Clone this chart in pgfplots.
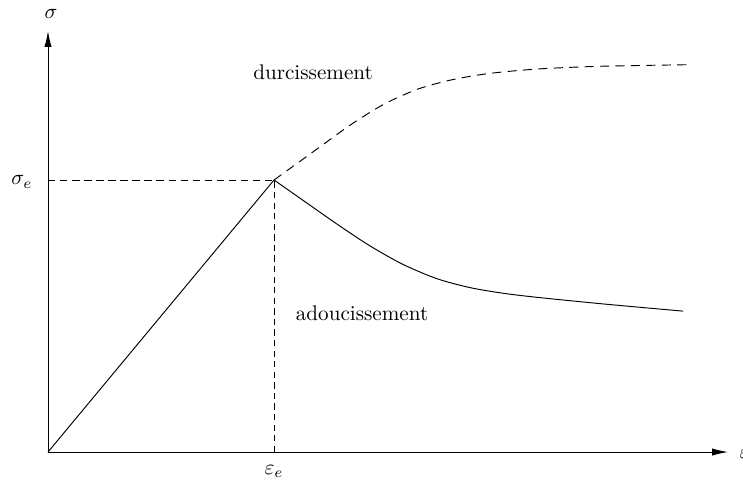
\documentclass[border=0pt]{standalone}
\usepackage{pgfplots}
\pgfplotsset{compat=1.18}
\usetikzlibrary{arrows.meta}
\begin{document}
\begin{tikzpicture}
\begin{axis}[
  anchor=origin, at={(0,0)},
  x=0.473pt, y=0.473pt,
  xmin=0, xmax=680, ymin=0, ymax=421,
  axis lines=left,
  axis line style={line width=0.45pt,-{Latex[length=7.5pt,width=3.4pt]}},
  xtick=\empty, ytick=\empty,
  clip=false,
]
% elastic part
\addplot[black, line width=0.45pt] coordinates {(0,0) (226,272)};
% hardening (dashed)
\addplot[black, line width=0.45pt, dash pattern=on 4.3pt off 3pt, smooth] coordinates {
(226,272) (269,303) (302,326.8) (335,347.3) (369,362.6) (402,371.8) (435,377.7) (469,381.4) (502,383.7) (555,385.8) (640,387.3)};
% softening
\addplot[black, line width=0.45pt, smooth] coordinates {
(226,272) (255,251.7) (289,227.9) (322,206.1) (355,187.6) (389,173.3) (422,164.4) (455,158.8) (489,154.7) (555,148.1) (635,140.9)};
% guide lines
\addplot[black, line width=0.4pt, dash pattern=on 3.5pt off 2.2pt] coordinates {(0,272) (226,272)};
\addplot[black, line width=0.4pt, dash pattern=on 3pt off 2pt] coordinates {(226,0) (226,272)};
% labels
\node[anchor=east] at (axis cs:-8,270) {$\sigma_e$};
\node[anchor=north] at (axis cs:226,-6) {$\varepsilon_e$};
\node[anchor=west] at (axis cs:684,-2) {$\varepsilon$};
\node[anchor=south] at (axis cs:3,426) {$\sigma$};
\node at (axis cs:265,380) {durcissement};
\node at (axis cs:314,139) {adoucissement};
\end{axis}
\pgfresetboundingbox
\path[use as bounding box] (-22.7pt,-15.1pt) rectangle (328.7pt,213.8pt);
\end{tikzpicture}
\end{document}
